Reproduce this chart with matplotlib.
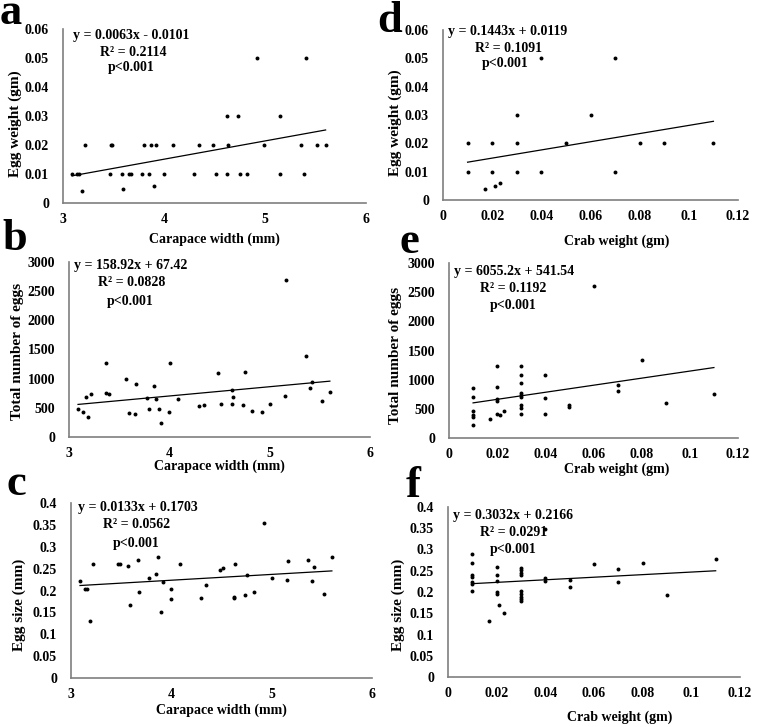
import matplotlib
matplotlib.use("Agg")
import matplotlib.pyplot as plt
import numpy as np

plt.rcParams['font.family'] = ['Liberation Serif', 'DejaVu Serif']
plt.rcParams['font.weight'] = 'bold'

W, H = 758, 727

# carapace width (mm) for panels a, b, c
cw_a = [3.09, 3.14, 3.16, 3.19, 3.22, 3.47, 3.48, 3.49, 3.58, 3.59, 3.65, 3.67, 3.78, 3.80, 3.85,
        3.87, 3.90, 3.92, 4.00, 4.09, 4.30, 4.35, 4.49, 4.51, 4.62, 4.62, 4.63, 4.73, 4.75, 4.82,
        4.92, 4.99, 5.15, 5.15, 5.36, 5.39, 5.41, 5.51, 5.60]
egg_wt_a = [0.01, 0.01, 0.01, 0.004, 0.02, 0.01, 0.02, 0.02, 0.01, 0.005, 0.01, 0.01, 0.01, 0.02, 0.01,
            0.02, 0.006, 0.02, 0.01, 0.02, 0.01, 0.02, 0.02, 0.01, 0.03, 0.01, 0.02, 0.03, 0.01, 0.01,
            0.05, 0.02, 0.03, 0.01, 0.02, 0.01, 0.05, 0.02, 0.02]

cw_b = [3.09, 3.14, 3.17, 3.19, 3.22, 3.37, 3.37, 3.40, 3.57, 3.60, 3.66, 3.67, 3.78, 3.80, 3.85,
        3.87, 3.90, 3.92, 4.00, 4.01, 4.09, 4.30, 4.35, 4.49, 4.51, 4.62, 4.62, 4.63, 4.73, 4.75,
        4.82, 4.92, 5.00, 5.15, 5.16, 5.36, 5.40, 5.42, 5.52, 5.60]
eggs_b = [484, 427, 683, 342, 729, 1275, 757, 734, 990, 410, 393, 916, 677, 484, 871,
          655, 484, 245, 421, 1264, 649, 535, 541, 1104, 564, 569, 803, 694, 541, 1110,
          438, 427, 569, 706, 2698, 1389, 837, 939, 620, 774]

cw_c = [3.09, 3.14, 3.16, 3.19, 3.22, 3.47, 3.49, 3.57, 3.59, 3.67, 3.68, 3.78, 3.85, 3.87, 3.90,
        3.92, 4.00, 4.00, 4.09, 4.30, 4.35, 4.49, 4.51, 4.62, 4.62, 4.63, 4.73, 4.75, 4.82, 4.92,
        5.00, 5.15, 5.16, 5.36, 5.40, 5.42, 5.52, 5.60]
egg_size_c = [0.222, 0.203, 0.203, 0.130, 0.261, 0.261, 0.260, 0.257, 0.168, 0.269, 0.197, 0.229,
              0.237, 0.277, 0.151, 0.219, 0.203, 0.181, 0.261, 0.184, 0.213, 0.248, 0.252, 0.185,
              0.183, 0.261, 0.189, 0.235, 0.197, 0.354, 0.229, 0.225, 0.267, 0.269, 0.222, 0.254,
              0.193, 0.277]

# crab weight (gm) for panels d, e, f
crab_d = [0.01, 0.01, 0.017, 0.02, 0.02, 0.021, 0.023, 0.03, 0.03, 0.03, 0.04, 0.04, 0.05, 0.06,
          0.07, 0.07, 0.08, 0.09, 0.11]
egg_wt_d = [0.02, 0.01, 0.004, 0.02, 0.01, 0.005, 0.006, 0.03, 0.02, 0.01, 0.05, 0.01, 0.02, 0.03,
            0.05, 0.01, 0.02, 0.02, 0.02]

crab_e = [0.01, 0.01, 0.01, 0.01, 0.01, 0.01, 0.017, 0.02, 0.02, 0.02, 0.02, 0.02, 0.021, 0.023,
          0.03, 0.03, 0.03, 0.03, 0.03, 0.03, 0.03, 0.03, 0.03, 0.04, 0.04, 0.04, 0.05, 0.05,
          0.06, 0.07, 0.07, 0.08, 0.09, 0.11]
eggs_e = [851, 703, 457, 400, 360, 229, 326, 1234, 880, 669, 640, 417, 394, 469,
          1229, 1074, 949, 771, 737, 703, 560, 520, 417, 1086, 686, 417, 560, 526,
          2600, 914, 811, 1343, 606, 749]

crab_f = [0.01, 0.01, 0.01, 0.01, 0.01, 0.01, 0.01, 0.017, 0.02, 0.02, 0.02, 0.02, 0.02, 0.021,
          0.023, 0.03, 0.03, 0.03, 0.03, 0.03, 0.03, 0.03, 0.03, 0.03, 0.04, 0.04, 0.04, 0.05,
          0.05, 0.06, 0.07, 0.07, 0.08, 0.09, 0.11]
egg_size_f = [0.290, 0.268, 0.239, 0.235, 0.224, 0.220, 0.202, 0.131, 0.260, 0.239, 0.227, 0.200,
              0.195, 0.169, 0.151, 0.256, 0.251, 0.245, 0.239, 0.202, 0.195, 0.188, 0.183, 0.179,
              0.349, 0.233, 0.227, 0.229, 0.212, 0.265, 0.253, 0.224, 0.268, 0.192, 0.277]

panels = [
    # letter, x, y, slope, intercept, eq, r2, xlabel, ylabel, xlim, xstep, ylim, ystep
    ('a', cw_a, egg_wt_a, 0.0063, -0.0101, 'y = 0.0063x - 0.0101', 'R² = 0.2114',
     'Carapace width (mm)', 'Egg weight (gm)', (3, 6), 1, (0, 0.06), 0.01),
    ('b', cw_b, eggs_b, 158.92, 67.42, 'y = 158.92x + 67.42', 'R² = 0.0828',
     'Carapace width (mm)', 'Total number of eggs', (3, 6), 1, (0, 3000), 500),
    ('c', cw_c, egg_size_c, 0.0133, 0.1703, 'y = 0.0133x + 0.1703', 'R² = 0.0562',
     'Carapace width (mm)', 'Egg size (mm)', (3, 6), 1, (0, 0.4), 0.05),
    ('d', crab_d, egg_wt_d, 0.1443, 0.0119, 'y = 0.1443x + 0.0119', 'R² = 0.1091',
     'Crab weight (gm)', 'Egg weight (gm)', (0, 0.12), 0.02, (0, 0.06), 0.01),
    ('e', crab_e, eggs_e, 6055.2, 541.54, 'y = 6055.2x + 541.54', 'R² = 0.1192',
     'Crab weight (gm)', 'Total number of eggs', (0, 0.12), 0.02, (0, 3000), 500),
    ('f', crab_f, egg_size_f, 0.3032, 0.2166, 'y = 0.3032x + 0.2166', 'R² = 0.0291',
     'Crab weight (gm)', 'Egg size (mm)', (0, 0.12), 0.02, (0, 0.4), 0.05),
]

# pixel layout: axes box (left, top, right, bottom), letter pos, text pos, label pos
boxes = {'a': (63, 29, 366, 203), 'b': (69, 262, 370, 437), 'c': (71, 503, 372, 678),
         'd': (443, 30, 738, 200), 'e': (449, 263, 738, 438), 'f': (448, 507, 740, 677)}
letters = {'a': (0, 24), 'b': (2, 250), 'c': (7, 495), 'd': (377, 32), 'e': (399, 253), 'f': (406, 497)}
texts = {'a': [(73, 36), (100, 53), (108, 68)], 'b': [(74, 265), (98, 283), (107, 301)],
         'c': [(78, 507), (103, 525), (113, 543)], 'd': [(448, 31), (475, 48), (482, 63)],
         'e': [(454, 272), (480, 289), (490, 306)], 'f': [(453, 515), (480, 533), (490, 550)]}
xlab = {'a': (214, 239), 'b': (219, 466), 'c': (221, 710), 'd': (617, 241), 'e': (617, 469), 'f': (620, 717)}
ylab = {'a': (15, 124), 'b': (18, 351), 'c': (19, 605), 'd': (395, 123), 'e': (395, 355), 'f': (398, 605)}


def fmt(v, pos=None):
    return f"{round(v, 4):g}"


fig = plt.figure(figsize=(W / 100, H / 100), dpi=100)
for (let, x, y, m, b, eq, r2, xl, yl, xlim, xs, ylim, ys) in panels:
    l, t, r, btm = boxes[let]
    ax = fig.add_axes([l / W, 1 - btm / H, (r - l) / W, (btm - t) / H])
    ax.scatter(x, y, s=8, color='black', zorder=3, linewidths=0)
    xx = np.array([min(x), max(x)])
    ax.plot(xx, m * xx + b, color='black', lw=0.9)
    ax.set_xlim(*xlim)
    ax.set_ylim(*ylim)
    ax.set_xticks(np.arange(xlim[0], xlim[1] + xs / 2, xs))
    ax.set_yticks(np.arange(ylim[0], ylim[1] + ys / 2, ys))
    ax.xaxis.set_major_formatter(fmt)
    ax.yaxis.set_major_formatter(fmt)
    ax.tick_params(axis='x', length=0, labelsize=10, pad=7)
    ax.tick_params(axis='y', length=0, labelsize=10, pad=10)
    for lab in ax.get_xticklabels() + ax.get_yticklabels():
        lab.set_fontweight('bold')
    for s in ['top', 'right']:
        ax.spines[s].set_visible(False)
    for s in ['left', 'bottom']:
        ax.spines[s].set_color('#7f7f7f')
        ax.spines[s].set_linewidth(1.2)
    ax.patch.set_alpha(0)

    lx, ly = letters[let]
    fig.text(lx / W, 1 - ly / H, let, fontsize=32, fontweight='bold', ha='left', va='baseline')
    for s, (tx, ty) in zip([eq, r2, 'p<0.001'], texts[let]):
        fig.text(tx / W, 1 - ty / H, s, fontsize=10, fontweight='bold', ha='left', va='center')
    cx, cy = xlab[let]
    fig.text(cx / W, 1 - cy / H, xl, fontsize=10, fontweight='bold', ha='center', va='center')
    yx, yy = ylab[let]
    fig.text(yx / W, 1 - yy / H, yl, fontsize=11, fontweight='bold',
             ha='center', va='center', rotation=90)

fig.savefig('out.png', dpi=100)
